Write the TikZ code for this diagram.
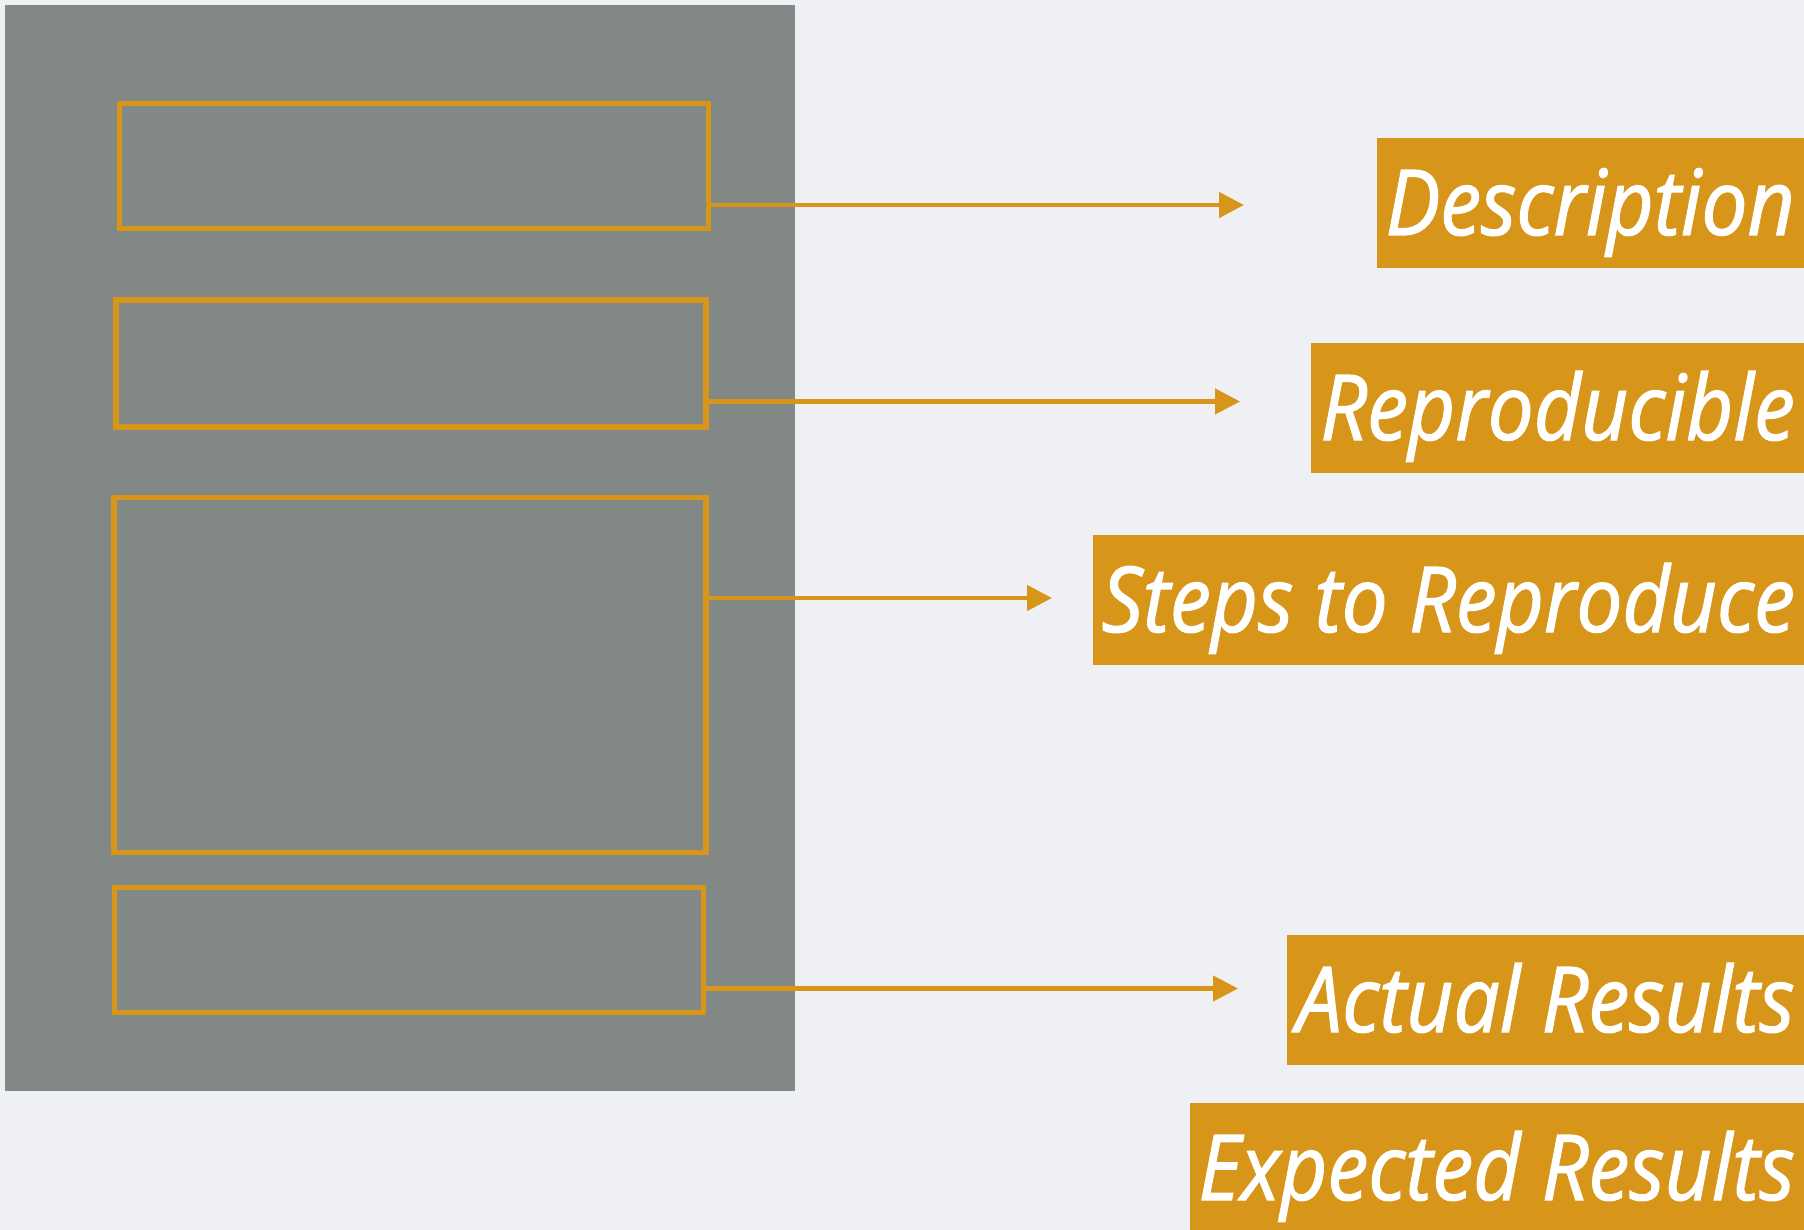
\documentclass[tikz,border=0pt]{standalone}
\usepackage{fontspec}
\setmainfont[FakeStretch=0.9, ItalicFeatures={FakeBold=1.3}]{Open Sans}
\usepackage{tikz}
\usetikzlibrary{arrows.meta,positioning}

\definecolor{bugorange}{HTML}{D7961A}
\definecolor{pagegray}{HTML}{828885}
\definecolor{slidebg}{HTML}{EEF0F3}

\begin{document}
\begin{tikzpicture}[
  x=1pt, y=-1pt,
  field/.style={draw=bugorange, line width=5.5pt, inner sep=0pt, outer sep=0pt},
  tag/.style={fill=bugorange, text=white, anchor=east, inner xsep=9pt, inner ysep=0pt,
    minimum height=130pt, text height=64pt, text depth=0pt,
    font=\fontsize{91}{100}\selectfont\itshape},
  link/.style={draw=bugorange, line width=4.5pt, -{Triangle[length=25pt,width=25pt]}},
]
\useasboundingbox[fill=slidebg] (0,0) rectangle (1804,1230);

% the report page with its four fields
\node[fill=pagegray, inner sep=0pt, minimum width=790pt, minimum height=1086pt] (page) at (400,548) {};
\node[field, minimum width=589pt, minimum height=125pt] (f1) at (414,166) {};
\node[field, minimum width=590pt, minimum height=127pt] (f2) at (411,363.5) {};
\node[field, minimum width=592pt, minimum height=355pt] (f3) at (410,675) {};
\node[field, minimum width=589pt, minimum height=125pt] (f4) at (409,950) {};

% labels on the right
\node[tag] (desc) at (1804,203) {Description};
\node[tag] (repr) at (1804,408) {Reproducible};
\node[tag] (steps) at (1804,600) {Steps to Reproduce};
\node[tag] (actual) at (1804,1000) {Actual Results};
\node[tag] (expect) at (1804,1168) {Expected Results};

\coordinate (t1) at (1244,205);
\coordinate (t2) at (1240,401.5);
\coordinate (t3) at (1052,598);
\coordinate (t4) at (1238,988.5);
\draw[link] (f1.east |- t1) -- (t1);
\draw[link] (f2.east |- t2) -- (t2);
\draw[link] (f3.east |- t3) -- (t3);
\draw[link] (f4.east |- t4) -- (t4);
\end{tikzpicture}
\end{document}
